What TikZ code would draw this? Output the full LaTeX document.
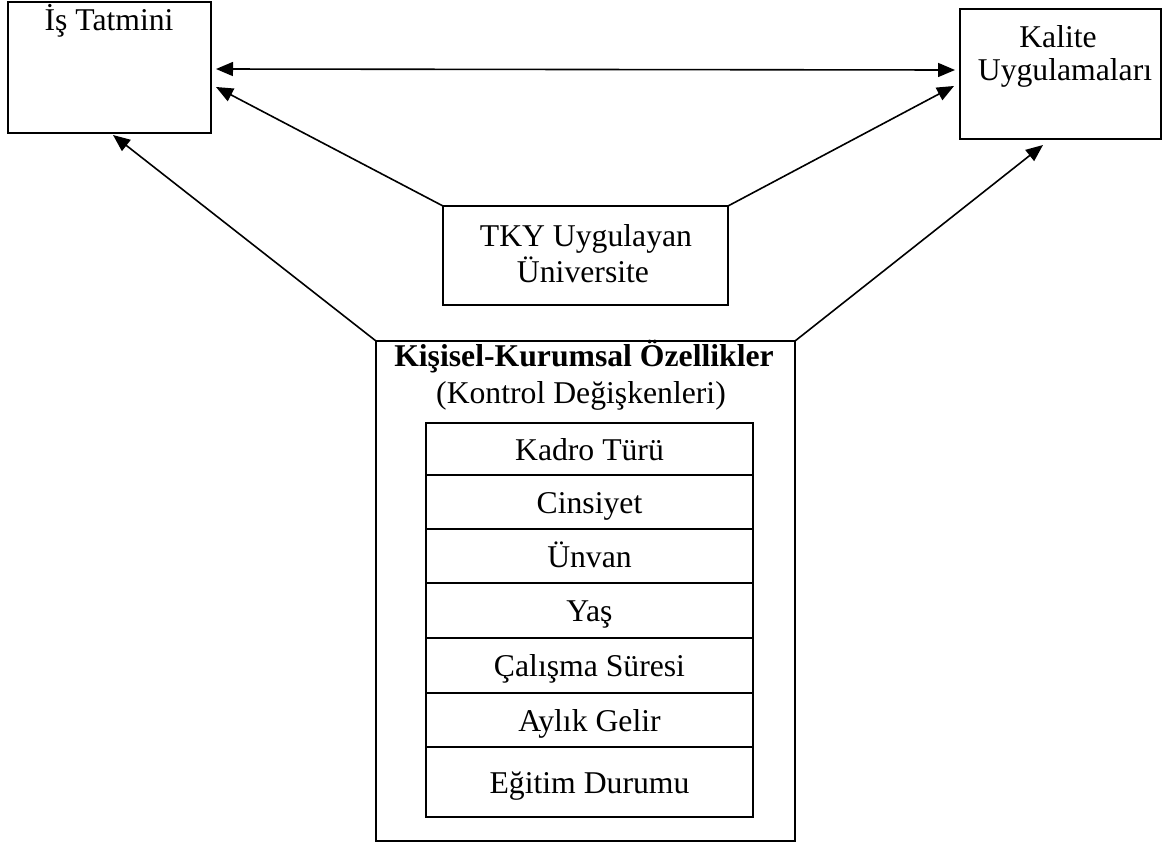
\documentclass[tikz,border=0pt]{standalone}
\usepackage{fontspec}
\setmainfont{Liberation Serif}
\usetikzlibrary{arrows.meta}

\tikzset{
  box/.style={draw, line width=2pt, inner sep=0pt, outer sep=0pt},
  label/.style={inner sep=0pt, anchor=base, font=\fontsize{31.7}{36}\selectfont},
  rowbox/.style={box, minimum width=327pt, text height=22pt, text depth=0pt,
                 font=\fontsize{31.7}{36}\selectfont},
  link/.style={line width=1.6pt, -{Triangle[length=17pt,width=14pt]}},
  biarrow/.style={line width=1.6pt, {Triangle[length=17pt,width=14pt]}-{Triangle[length=17pt,width=14pt]}}
}

\begin{document}
\begin{tikzpicture}[x=1pt,y=-1pt]
  \useasboundingbox (0,0) rectangle (1166,844);

  % outer boxes
  \node[box, minimum width=203pt, minimum height=131pt] (is)  at (109.5,67.5) {};
  \node[box, minimum width=201pt, minimum height=130pt] (kal) at (1060.5,74) {};
  \node[box, minimum width=285pt, minimum height=99pt]  (tky) at (585.5,255.5) {};
  \node[box, minimum width=419pt, minimum height=500pt] (big) at (585.5,591) {};

  % box titles
  \node[label] (isT)  at (109,30)  {İş Tatmini};
  \node[label] (kalA) at (1058,47) {Kalite};
  \node[label] (kalB) at (1065,80) {Uygulamaları};
  \node[label] (tkyA) at (586,246) {TKY Uygulayan};
  \node[label] (tkyB) at (583,282) {Üniversite};
  \node[label, font=\fontsize{31.7}{36}\selectfont\bfseries] (bigA) at (584,366) {Kişisel-Kurumsal Özellikler};
  \node[label] (bigB) at (581,403) {(Kontrol Değişkenleri)};

  % control variables table
  \node[rowbox, minimum height=52pt] (r1) at (589.5,449)   {Kadro Türü};
  \node[rowbox, minimum height=54pt] (r2) at (589.5,502)   {Cinsiyet};
  \node[rowbox, minimum height=54pt] (r3) at (589.5,556)   {Ünvan};
  \node[rowbox, minimum height=55pt] (r4) at (589.5,610.5) {Yaş};
  \node[rowbox, minimum height=55pt] (r5) at (589.5,665.5) {Çalışma Süresi};
  \node[rowbox, minimum height=54pt] (r6) at (589.5,720)   {Aylık Gelir};
  \node[rowbox, minimum height=70pt] (r7) at (589.5,782)   {Eğitim Durumu};

  % relations
  \draw[biarrow] ([shift={(5,1.5)}]is.east) -- ([shift={(-5,-4)}]kal.west);
  \draw[link] (tky.north west) -- ([shift={(5,19.5)}]is.east);
  \draw[link] (tky.north east) -- ([shift={(-6,12)}]kal.west);
  \draw[link] (big.north west) -- ([shift={(3.5,2)}]is.south);
  \draw[link] (big.north east) -- ([shift={(-17.5,6)}]kal.south);
\end{tikzpicture}
\end{document}
